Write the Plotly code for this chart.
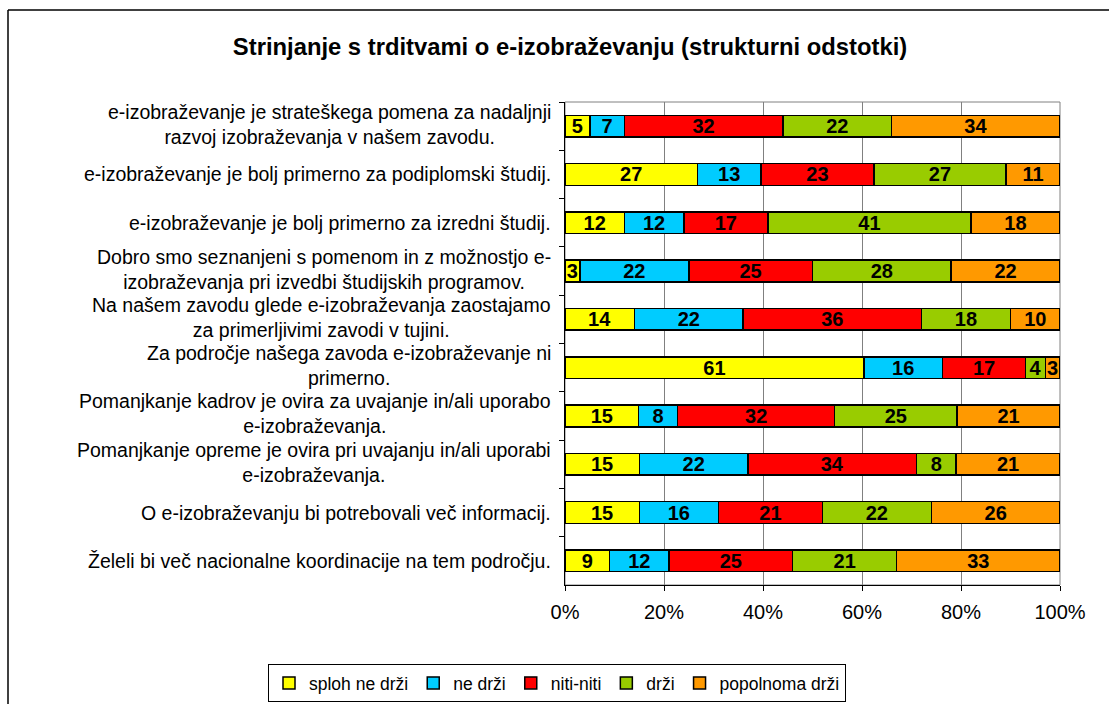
import plotly.graph_objects as go

categories = [
    "e-izobraževanje je strateškega pomena za nadaljnji<br>razvoj izobraževanja v našem zavodu.",
    "e-izobraževanje je bolj primerno za podiplomski študij.",
    "e-izobraževanje je bolj primerno za izredni študij.",
    "Dobro smo seznanjeni s pomenom in z možnostjo e-<br>izobraževanja pri izvedbi študijskih programov.",
    "Na našem zavodu glede e-izobraževanja zaostajamo<br>za primerljivimi zavodi v tujini.",
    "Za področje našega zavoda e-izobraževanje ni<br>primerno.",
    "Pomanjkanje kadrov je ovira za uvajanje in/ali uporabo<br>e-izobraževanja.",
    "Pomanjkanje opreme je ovira pri uvajanju in/ali uporabi<br>e-izobraževanja.",
    "O e-izobraževanju bi potrebovali več informacij.",
    "Želeli bi več nacionalne koordinacije na tem področju.",
]

sploh_ne_drzi = [5, 27, 12, 3, 14, 61, 15, 15, 15, 9]
ne_drzi = [7, 13, 12, 22, 22, 16, 8, 22, 16, 12]
niti_niti = [32, 23, 17, 25, 36, 17, 32, 34, 21, 25]
drzi = [22, 27, 41, 28, 18, 4, 25, 8, 22, 21]
popolnoma_drzi = [34, 11, 18, 22, 10, 3, 21, 21, 26, 33]

series_names = ["sploh ne drži", "ne drži", "niti-niti", "drži", "popolnoma drži"]
series_values = [sploh_ne_drzi, ne_drzi, niti_niti, drzi, popolnoma_drzi]
colors = ["#FFFF00", "#00CCFF", "#FF0000", "#99CC00", "#FF9900"]

x_ticks = [0, 20, 40, 60, 80, 100]
x_ticklabels = ["0%", "20%", "40%", "60%", "80%", "100%"]

FONT = "Liberation Sans, Arial, sans-serif"

# plot area geometry (pixels)
L, R, T, B = 565, 1060, 102, 585
W, H = R - L, B - T

fig = go.Figure()
for name, vals, col in zip(series_names, series_values, colors):
    fig.add_trace(go.Bar(
        name=name,
        y=categories,
        x=vals,
        orientation="h",
        marker=dict(color=col, line=dict(color="black", width=1.5)),
        text=[str(v) for v in vals],
        textposition="inside",
        insidetextanchor="middle",
        textangle=0,
        constraintext="none",
        textfont=dict(family=FONT, size=20, color="black", weight="bold"),
        cliponaxis=False,
    ))

# category labels as centered multi-line annotations
for cat in categories:
    fig.add_annotation(
        x=0, xref="paper", y=cat, yref="y",
        text=cat, showarrow=False,
        xanchor="right", align="center",
        xshift=-12, yshift=2 if "<br>" in cat else 0,
        font=dict(family=FONT, size=19.5, color="black"),
    )

# outer chart border: only left and top edges are visible in the picture
fig.add_shape(type="line", xref="paper", yref="paper",
              x0=(8 - L) / W, x1=(1115 - L) / W,
              y0=(B - 10) / H, y1=(B - 10) / H,
              line=dict(color="black", width=1.5))
fig.add_shape(type="line", xref="paper", yref="paper",
              x0=(8 - L) / W, x1=(8 - L) / W,
              y0=(B - 10) / H, y1=(B - 710) / H,
              line=dict(color="black", width=1.5))

# plot area border in gray
fig.add_shape(type="rect", xref="paper", yref="paper", x0=0, x1=1, y0=0, y1=1,
              line=dict(color="#808080", width=1), fillcolor="rgba(0,0,0,0)", layer="below")

fig.update_layout(
    width=1109, height=704,
    barmode="stack", barnorm="percent",
    bargap=0.55,
    paper_bgcolor="white", plot_bgcolor="white",
    margin=dict(l=L, r=1109 - R, t=T, b=704 - B, autoexpand=False),
    title=dict(
        text="<b>Strinjanje s trditvami o e-izobraževanju (strukturni odstotki)</b>",
        x=570 / 1109, xanchor="center", xref="container",
        y=1 - 47 / 704, yanchor="middle", yref="container",
        font=dict(family=FONT, size=23.8, color="black"),
    ),
    font=dict(family=FONT, size=20, color="black"),
    showlegend=True,
    legend=dict(
        orientation="h",
        xref="paper", yref="paper",
        x=(268 - L) / W, xanchor="left",
        y=(B - 664) / H, yanchor="top",
        bordercolor="black", borderwidth=1,
        font=dict(family=FONT, size=17.5, color="black"),
        traceorder="normal",
        itemwidth=30,
        tracegroupgap=0,
    ),
    xaxis=dict(
        range=[0, 100],
        tickvals=x_ticks, ticktext=x_ticklabels,
        showgrid=True, gridcolor="#808080", gridwidth=1,
        showline=True, linecolor="black", linewidth=1, mirror=False,
        ticks="outside", ticklen=5, tickcolor="black",
        ticklabelstandoff=4,
        tickfont=dict(family=FONT, size=20, color="black"),
        zeroline=False, fixedrange=True,
    ),
    yaxis=dict(
        categoryorder="array", categoryarray=categories,
        autorange="reversed",
        showticklabels=False,
        showline=True, linecolor="black", linewidth=1,
        ticks="outside", ticklen=5, tickcolor="black",
        tickson="boundaries",
        showgrid=False, zeroline=False,
    ),
)

fig.write_html("out.html", config={"displayModeBar": False},
               post_script="document.body.style.margin='0';")
